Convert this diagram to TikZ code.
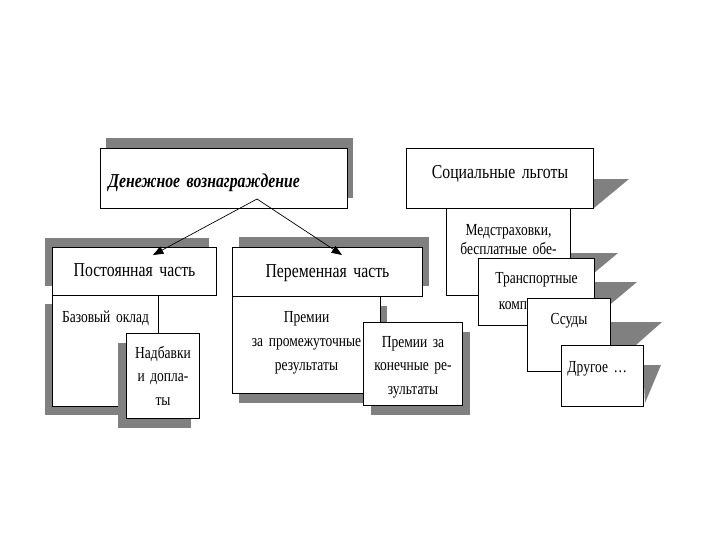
\documentclass[tikz,border=0pt]{standalone}
\usepackage{fontspec}
\setmainfont{Liberation Serif}[FakeStretch=0.8,WordSpace=0.75]
\usetikzlibrary{arrows.meta}

\begin{document}
\begin{tikzpicture}[
  x=0.25mm, y=-0.25mm,
  >={Triangle[length=2.6mm,width=2mm]},
  cell/.style={draw,fill=white,line width=0.7pt,inner sep=0pt,anchor=north west,align=center},
  hdr/.style={font=\fontsize{14}{16}\selectfont},
  txt/.style={font=\fontsize{12}{16.7}\selectfont},
  cast/.style={fill=black!50},
]
\useasboundingbox (0,0) rectangle (720,540);

% Top box
\fill[cast] (106,138) rectangle (353,198);
\node[cell,font={\fontsize{14}{16}\selectfont\bfseries\itshape},align=left,inner xsep=2mm,
  text width=57.75mm,text height=9.75mm,text depth=5.25mm] (money) at (100,148)
  {Денежное вознаграждение};

% Fixed part — shadows to the left
\fill[cast] (45,238) rectangle (209,286);
\node[cell,hdr,text width=41mm,text height=7.25mm,text depth=4.75mm] (fixed) at (52,247)
  {Постоянная часть};
\fill[cast] (45,304) rectangle (151,415);
\node[cell,txt,text width=26.5mm,text height=6.75mm,text depth=21mm] (base) at (52,295)
  {Базовый оклад};
\fill[cast] (118,343) rectangle (191,428);
\node[cell,txt,text width=18.25mm,text height=6.25mm,text depth=15mm] (extra) at (126,333)
  {Надбавки\\и допла-\\ты};

% Variable part — shadows to the right
\fill[cast] (239,237) rectangle (429,286);
\node[cell,hdr,text width=47.5mm,text height=7.5mm,text depth=4.75mm] (variable) at (232,247)
  {Переменная часть};
\fill[cast] (239,306) rectangle (387,403);
\node[cell,font=\fontsize{12}{17}\selectfont,text width=37mm,text height=6.5mm,text depth=17.75mm] (interim) at (232,296)
  {Премии\\за промежуточные\\результаты};
\fill[cast] (371,332) rectangle (470,415);
\node[cell,txt,text width=24.75mm,text height=6.25mm,text depth=14.5mm] (final) at (363,322)
  {Премии за\\конечные ре-\\зультаты};

% Social benefits — stacked cards with wedge shadows
\fill[cast] (593,179) -- (629,179) -- (594,208) -- cycle;
\node[cell,hdr,text width=46.75mm,text height=7.5mm,text depth=7.5mm] (social) at (406,148)
  {Социальные льготы};
\fill[cast] (570,253) -- (618,253) -- (570,293) -- cycle;
\node[cell,font=\fontsize{12}{13.5}\selectfont,text width=31mm,text height=6.75mm,text depth=15mm] (medical) at (446,208)
  {Медстраховки,\\бесплатные обе-};
\fill[cast] (594,282) -- (637,282) -- (594,318) -- cycle;
\node[cell,font=\fontsize{12}{18.4}\selectfont,text width=29mm,text height=6.25mm,text depth=10.5mm] (transport) at (478,258)
  {Транспортные\\компенсации};
\fill[cast] (610,322) -- (662,322) -- (610,368) -- cycle;
\node[cell,txt,text width=20.75mm,text height=6.5mm,text depth=11.75mm] (loans) at (527,298)
  {Ссуды};
\fill[cast] (643,365) -- (661,365) -- (645,403) -- cycle;
\node[cell,txt,align=left,inner xsep=1.5mm,text width=17.5mm,text height=6.75mm,text depth=8.5mm] (other) at (561,345)
  {Другое \dots};

% Arrows from the top box
\coordinate (split) at (257,199);
\coordinate (fixTip) at (153,255);
\coordinate (varTip) at (342,255);
\draw[->,line width=0.5pt] (split) -- (fixTip);
\draw[->,line width=0.5pt] (split) -- (varTip);

\end{tikzpicture}
\end{document}
